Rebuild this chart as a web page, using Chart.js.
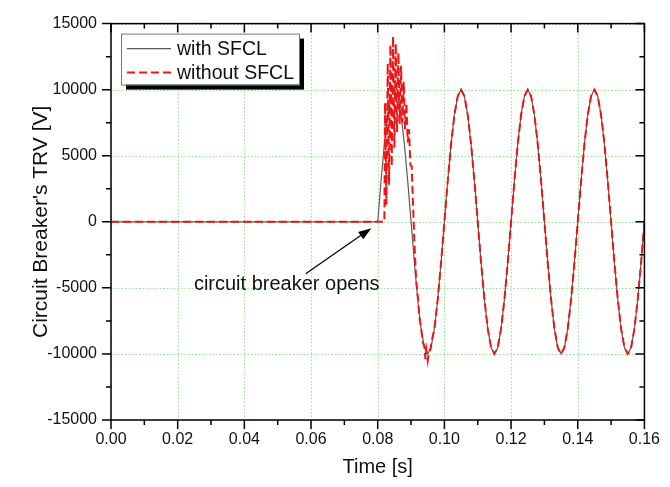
<!DOCTYPE html>
<html>
<head>
<meta charset="utf-8">
<script src="https://cdn.jsdelivr.net/npm/chart.js@4.4.0/dist/chart.umd.min.js"></script>
<style>
  html, body { margin: 0; padding: 0; background: #fff; }
  canvas { display: block; }
</style>
</head>
<body>
<canvas id="trv" width="670" height="487"></canvas>
<script>
// axis ticks
var xTickValues = [0, 0.02, 0.04, 0.06, 0.08, 0.10, 0.12, 0.14, 0.16];
var xMinorValues = [0.01, 0.03, 0.05, 0.07, 0.09, 0.11, 0.13, 0.15];
var yTickValues = [-15000, -10000, -5000, 0, 5000, 10000, 15000];
var yMinorValues = [-12500, -7500, -2500, 2500, 7500, 12500];

// with SFCL (grey solid)
var timeWith = [
  0, 0.080, 0.081, 0.082, 0.083, 0.084, 0.085, 0.086, 0.087, 0.088, 0.089,
  0.090, 0.091, 0.092, 0.093, 0.094, 0.095, 0.096, 0.097, 0.098, 0.099,
  0.100, 0.101, 0.102, 0.103, 0.104, 0.105, 0.106, 0.107, 0.108, 0.109,
  0.110, 0.111, 0.112, 0.113, 0.114, 0.115, 0.116, 0.117, 0.118, 0.119,
  0.120, 0.121, 0.122, 0.123, 0.124, 0.125, 0.126, 0.127, 0.128, 0.129,
  0.130, 0.131, 0.132, 0.133, 0.134, 0.135, 0.136, 0.137, 0.138, 0.139,
  0.140, 0.141, 0.142, 0.143, 0.144, 0.145, 0.146, 0.147, 0.148, 0.149,
  0.150, 0.151, 0.152, 0.153, 0.154, 0.155, 0.156, 0.157, 0.158, 0.159,
  0.160
];
var voltWith = [
  0, 0, 3090, 5878, 8090, 9511, 10000, 9511, 8090, 5878, 3090,
  0, -3090, -5878, -8090, -9511, -10000, -9511, -8090, -5878, -3090,
  0, 3090, 5878, 8090, 9511, 10000, 9511, 8090, 5878, 3090,
  0, -3090, -5878, -8090, -9511, -10000, -9511, -8090, -5878, -3090,
  0, 3090, 5878, 8090, 9511, 10000, 9511, 8090, 5878, 3090,
  0, -3090, -5878, -8090, -9511, -10000, -9511, -8090, -5878, -3090,
  0, 3090, 5878, 8090, 9511, 10000, 9511, 8090, 5878, 3090,
  0, -3090, -5878, -8090, -9511, -10000, -9511, -8090, -5878, -3090,
  0
];

// without SFCL (red dashed)
var timeWithout = [
  0, 0.0820, 0.0822, 0.0826, 0.0830, 0.0834, 0.0838, 0.0842, 0.0846, 0.0850,
  0.0854, 0.0858, 0.0862, 0.0866, 0.0870, 0.0874, 0.0878, 0.0882, 0.0886,
  0.0890, 0.0894, 0.0898, 0.0902,
  0.0906, 0.0910, 0.0915, 0.0920, 0.0925, 0.0930, 0.0935, 0.0940, 0.0943,
  0.0946, 0.0950, 0.0954, 0.0958, 0.0962, 0.0970, 0.0980, 0.0990,
  0.100, 0.101, 0.102, 0.103, 0.104, 0.105, 0.106, 0.107, 0.108, 0.109,
  0.110, 0.111, 0.112, 0.113, 0.114, 0.115, 0.116, 0.117, 0.118, 0.119,
  0.120, 0.121, 0.122, 0.123, 0.124, 0.125, 0.126, 0.127, 0.128, 0.129,
  0.130, 0.131, 0.132, 0.133, 0.134, 0.135, 0.136, 0.137, 0.138, 0.139,
  0.140, 0.141, 0.142, 0.143, 0.144, 0.145, 0.146, 0.147, 0.148, 0.149,
  0.150, 0.151, 0.152, 0.153, 0.154, 0.155, 0.156, 0.157, 0.158, 0.159,
  0.160
];
var voltWithout = [
  0, 0, 9000, 1300, 12000, 2800, 13400, 4200, 14050, 5600,
  13500, 6800, 12800, 7400, 11800, 7500, 10600, 7000, 9000,
  6000, 7000, 4300, 4200,
  1200, -1500, -4300, -5600, -7200, -8000, -9100, -9400, -10400,
  -9700, -10500, -9800, -9700, -9000, -8090, -5878, -3090,
  0, 3090, 5878, 8090, 9511, 10000, 9511, 8090, 5878, 3090,
  0, -3090, -5878, -8090, -9511, -10000, -9511, -8090, -5878, -3090,
  0, 3090, 5878, 8090, 9511, 10000, 9511, 8090, 5878, 3090,
  0, -3090, -5878, -8090, -9511, -10000, -9511, -8090, -5878, -3090,
  0, 3090, 5878, 8090, 9511, 10000, 9511, 8090, 5878, 3090,
  0, -3090, -5878, -8090, -9511, -10000, -9511, -8090, -5878, -3090,
  0
];

// annotation: text position and arrow (data coordinates)
var noteText = 'circuit breaker opens';
var notePos = [0.0527, -5150];
var arrowFrom = [0.0584, -3940];
var arrowTo = [0.0781, -480];

var FONT = '"Liberation Sans", Arial, sans-serif';

function toPoints(xs, ys) {
    var pts = [];
    for (var i = 0; i < xs.length; i++) {
        pts.push({x: xs[i], y: ys[i]});
    }
    return pts;
}

var framePlugin = {
    id: 'framePlugin',
    beforeDatasetsDraw: function(chart) {
        // dotted light green grid at the major ticks
        var ctx = chart.ctx;
        var a = chart.chartArea;
        var xs = chart.scales.x, ys = chart.scales.y;
        ctx.save();
        ctx.strokeStyle = '#93e393';
        ctx.lineWidth = 1;
        ctx.setLineDash([1.5, 2]);
        ctx.beginPath();
        xTickValues.forEach(function(v) {
            var px = Math.round(xs.getPixelForValue(v)) + 0.5;
            ctx.moveTo(px, a.top); ctx.lineTo(px, a.bottom);
        });
        yTickValues.forEach(function(v) {
            var py = Math.round(ys.getPixelForValue(v)) + 0.5;
            ctx.moveTo(a.left, py); ctx.lineTo(a.right, py);
        });
        ctx.stroke();
        ctx.restore();
    },
    afterDraw: function(chart) {
        var ctx = chart.ctx;
        var a = chart.chartArea;
        var xs = chart.scales.x, ys = chart.scales.y;
        ctx.save();

        // frame + ticks (outside on left/bottom, inside on top/right)
        ctx.strokeStyle = '#000';
        ctx.lineWidth = 1.5;
        ctx.strokeRect(a.left, a.top, a.right - a.left, a.bottom - a.top);
        ctx.beginPath();
        xTickValues.forEach(function(v) {
            var px = xs.getPixelForValue(v);
            ctx.moveTo(px, a.bottom); ctx.lineTo(px, a.bottom + 9);
            ctx.moveTo(px, a.top); ctx.lineTo(px, a.top + 9);
        });
        xMinorValues.forEach(function(v) {
            var px = xs.getPixelForValue(v);
            ctx.moveTo(px, a.bottom); ctx.lineTo(px, a.bottom + 5);
            ctx.moveTo(px, a.top); ctx.lineTo(px, a.top + 5);
        });
        yTickValues.forEach(function(v) {
            var py = ys.getPixelForValue(v);
            ctx.moveTo(a.left - 9, py); ctx.lineTo(a.left, py);
            ctx.moveTo(a.right - 9, py); ctx.lineTo(a.right, py);
        });
        yMinorValues.forEach(function(v) {
            var py = ys.getPixelForValue(v);
            ctx.moveTo(a.left - 5, py); ctx.lineTo(a.left, py);
            ctx.moveTo(a.right - 5, py); ctx.lineTo(a.right, py);
        });
        ctx.stroke();

        // annotation arrow
        var x0 = xs.getPixelForValue(arrowFrom[0]), y0 = ys.getPixelForValue(arrowFrom[1]);
        var x1 = xs.getPixelForValue(arrowTo[0]), y1 = ys.getPixelForValue(arrowTo[1]);
        var ang = Math.atan2(y1 - y0, x1 - x0);
        ctx.strokeStyle = '#000';
        ctx.lineWidth = 1.2;
        ctx.beginPath();
        ctx.moveTo(x0, y0);
        ctx.lineTo(x1 - 10 * Math.cos(ang), y1 - 10 * Math.sin(ang));
        ctx.stroke();
        ctx.fillStyle = '#000';
        ctx.beginPath();
        ctx.moveTo(x1, y1);
        ctx.lineTo(x1 - 13 * Math.cos(ang) + 4.5 * Math.sin(ang), y1 - 13 * Math.sin(ang) - 4.5 * Math.cos(ang));
        ctx.lineTo(x1 - 13 * Math.cos(ang) - 4.5 * Math.sin(ang), y1 - 13 * Math.sin(ang) + 4.5 * Math.cos(ang));
        ctx.closePath();
        ctx.fill();

        ctx.font = '20px ' + FONT;
        ctx.textAlign = 'center';
        ctx.textBaseline = 'alphabetic';
        ctx.fillStyle = '#111';
        ctx.fillText(noteText, xs.getPixelForValue(notePos[0]), ys.getPixelForValue(notePos[1]));

        // legend box with shadow
        var lx = a.left + 10, ly = a.top + 10, lw = 178, lh = 51;
        ctx.fillStyle = '#000';
        ctx.fillRect(lx + 5, ly + 5, lw, lh);
        ctx.fillStyle = '#fff';
        ctx.fillRect(lx, ly, lw, lh);
        ctx.strokeStyle = '#777';
        ctx.lineWidth = 1;
        ctx.strokeRect(lx + 0.5, ly + 0.5, lw, lh);
        chart.data.datasets.forEach(function(ds, i) {
            var yy = ly + 15 + i * 24;
            ctx.strokeStyle = ds.borderColor;
            ctx.lineWidth = ds.borderWidth;
            ctx.setLineDash(ds.borderDash || []);
            ctx.beginPath();
            ctx.moveTo(lx + 6, yy);
            ctx.lineTo(lx + 50, yy);
            ctx.stroke();
            ctx.setLineDash([]);
            ctx.fillStyle = '#111';
            ctx.font = '19.5px ' + FONT;
            ctx.textAlign = 'left';
            ctx.textBaseline = 'middle';
            ctx.fillText(ds.label, lx + 56, yy + 1);
        });

        ctx.restore();
    }
};

var ctx = document.getElementById('trv').getContext('2d');
var chart = new Chart(ctx, {
    type: 'line',
    data: {
        datasets: [
            {
                label: 'with SFCL',
                data: toPoints(timeWith, voltWith),
                borderColor: '#5a5a5a',
                borderWidth: 1.2,
                pointRadius: 0,
                tension: 0,
                fill: false,
                order: 1
            },
            {
                label: 'without SFCL',
                data: toPoints(timeWithout, voltWithout),
                borderColor: '#f01414',
                borderWidth: 2,
                borderDash: [8, 4],
                pointRadius: 0,
                tension: 0,
                fill: false,
                order: 0
            }
        ]
    },
    options: {
        responsive: false,
        animation: false,
        devicePixelRatio: 1,
        layout: { padding: { left: 0, top: 15, right: 18, bottom: 0 } },
        plugins: {
            legend: { display: false },
            tooltip: { enabled: false }
        },
        scales: {
            x: {
                type: 'linear',
                min: 0,
                max: 0.16,
                afterBuildTicks: function(scale) {
                    scale.ticks = xTickValues.map(function(v) { return {value: v}; });
                },
                afterFit: function(scale) { scale.height = 67; },
                grid: { display: false, drawTicks: false },
                border: { display: false },
                ticks: {
                    padding: 10,
                    color: '#111',
                    font: { family: FONT, size: 16 },
                    maxRotation: 0,
                    callback: function(v) { return Number(v).toFixed(2); }
                },
                title: {
                    display: true,
                    text: 'Time [s]',
                    color: '#111',
                    font: { family: FONT, size: 20 },
                    padding: { top: 0, bottom: 8 }
                }
            },
            y: {
                type: 'linear',
                min: -15000,
                max: 15000,
                afterBuildTicks: function(scale) {
                    scale.ticks = yTickValues.map(function(v) { return {value: v}; });
                },
                afterFit: function(scale) { scale.width = 111; },
                grid: { display: false, drawTicks: false },
                border: { display: false },
                ticks: {
                    padding: 14,
                    color: '#111',
                    font: { family: FONT, size: 16 },
                    callback: function(v) { return String(v); }
                },
                title: {
                    display: true,
                    text: "Circuit Breaker's TRV [V]",
                    color: '#111',
                    font: { family: FONT, size: 21 },
                    padding: { top: 29, bottom: 0 }
                }
            }
        }
    },
    plugins: [framePlugin]
});
</script>
</body>
</html>
